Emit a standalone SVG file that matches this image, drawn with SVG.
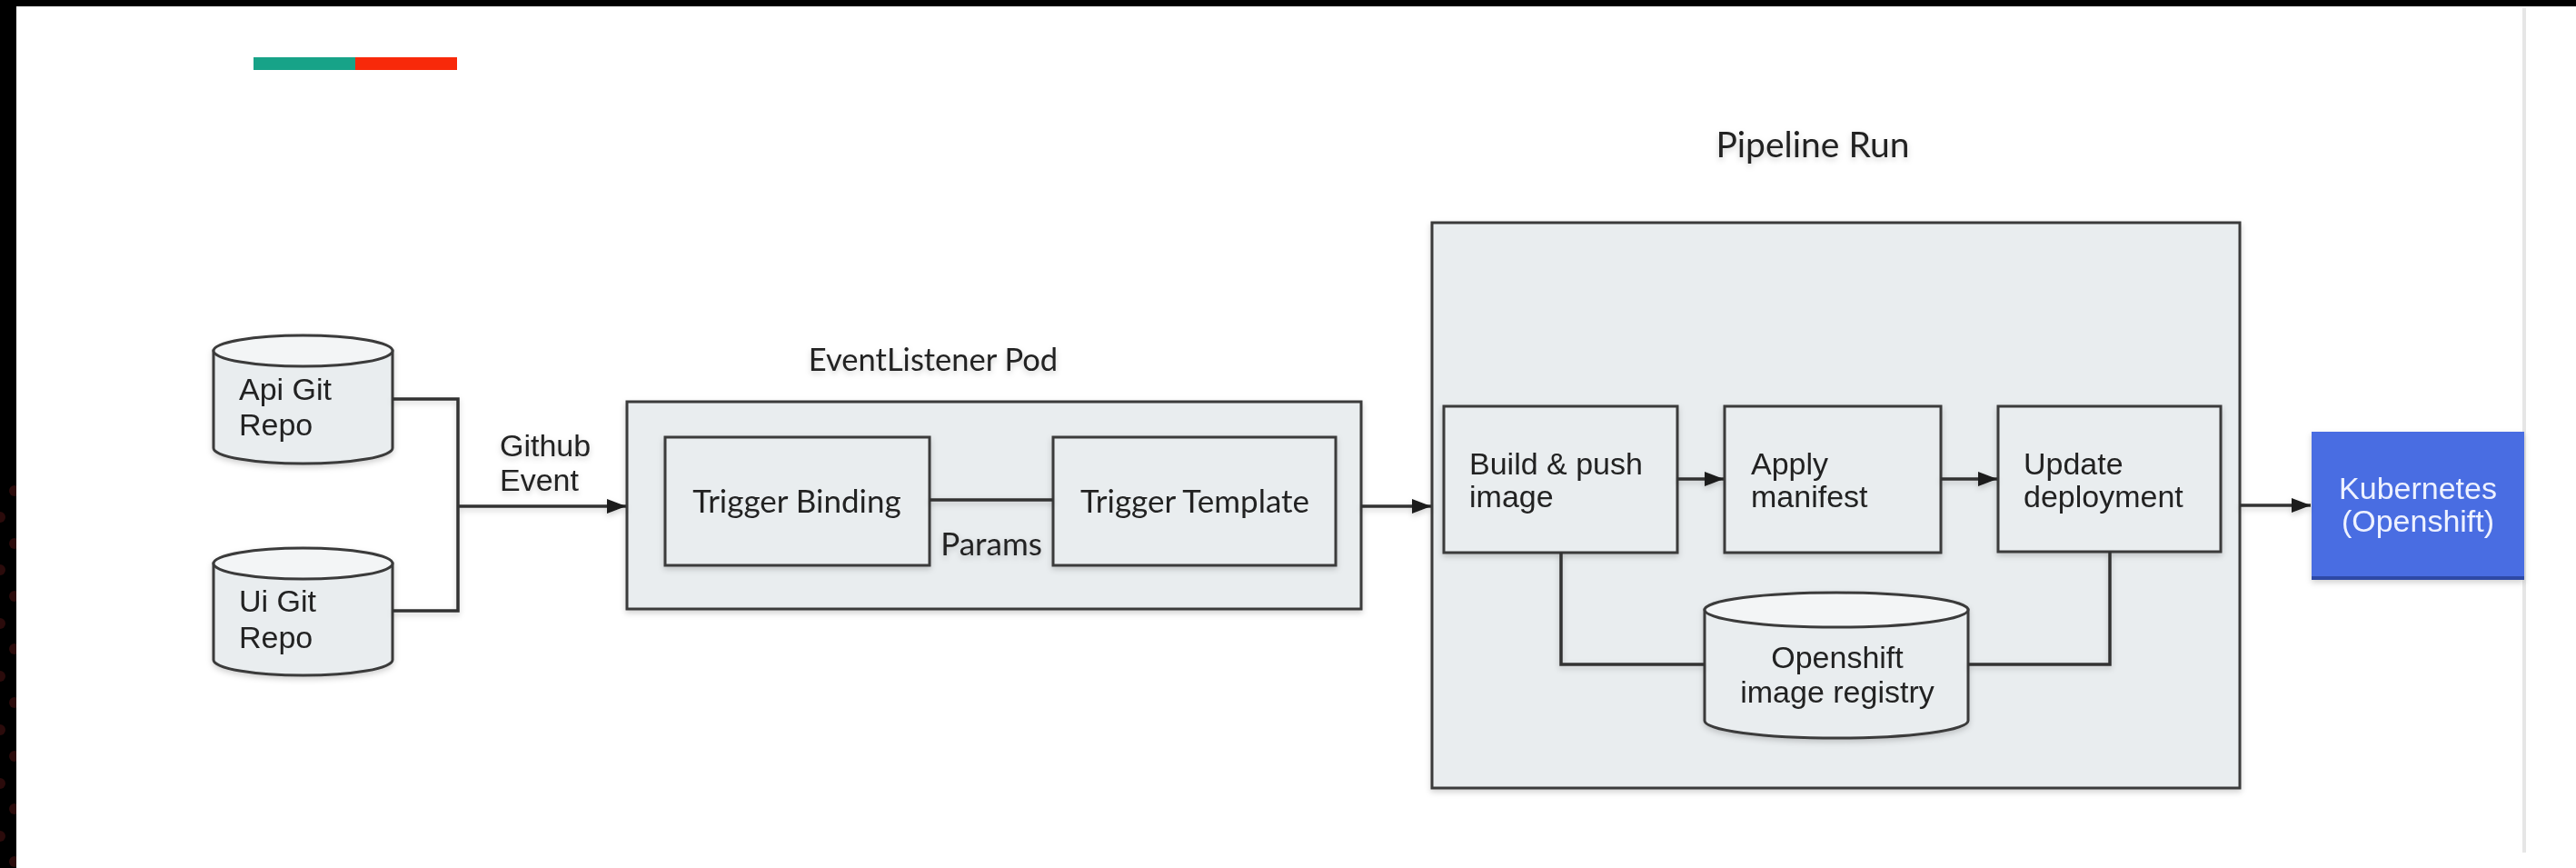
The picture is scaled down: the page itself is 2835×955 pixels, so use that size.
<svg xmlns="http://www.w3.org/2000/svg" width="2835" height="955" viewBox="0 0 2835 955">
<style>
.box{fill:#e9edef;stroke:#3a3a3a;stroke-width:3}
.top{fill:#f3f5f6;stroke:#3a3a3a;stroke-width:3}
.t{font-family:"Liberation Sans",Arial,sans-serif;font-size:34px;fill:#222}
.l{font-family:Lato,"Liberation Sans",sans-serif;font-size:35px;fill:#242424}
.c{fill:none;stroke:#333;stroke-width:3.5}
.dot{fill:#2b0b0b}
</style>
<defs>
<marker id="ah" markerUnits="userSpaceOnUse" markerWidth="22" markerHeight="18" refX="21" refY="9" orient="auto">
<path d="M0,1 L21,9 L0,17 Z" fill="#1a1a1a"/>
</marker>
<filter id="sh" x="-10%" y="-10%" width="120%" height="130%">
<feDropShadow dx="0" dy="3" stdDeviation="3" flood-color="#000" flood-opacity="0.18"/>
</filter>
</defs>
<rect x="0" y="0" width="2835" height="955" fill="#000"/>
<g id="dots">
<circle class="dot" cx="16" cy="540" r="6"/><circle class="dot" cx="16" cy="598" r="6"/><circle class="dot" cx="16" cy="656" r="6"/><circle class="dot" cx="16" cy="714" r="6"/><circle class="dot" cx="16" cy="773" r="6"/><circle class="dot" cx="16" cy="832" r="6"/><circle class="dot" cx="16" cy="890" r="6"/><circle class="dot" cx="16" cy="948" r="6"/>
<circle class="dot" cx="0" cy="569" r="6"/><circle class="dot" cx="0" cy="627" r="6"/><circle class="dot" cx="0" cy="686" r="6"/><circle class="dot" cx="0" cy="744" r="6"/><circle class="dot" cx="0" cy="803" r="6"/><circle class="dot" cx="0" cy="862" r="6"/><circle class="dot" cx="0" cy="920" r="6"/>
</g>
<rect x="18" y="7" width="2817" height="948" fill="#fff"/>
<line x1="2778" y1="9" x2="2778" y2="938" stroke="#e6e6e6" stroke-width="4"/>
<g id="accent-bar">
<rect x="279" y="63" width="113" height="14" fill="#17a388"/>
<rect x="391" y="63" width="112" height="14" fill="#f8290a"/>
</g>

<g id="pipeline-run" filter="url(#sh)">
<rect class="box" x="1576" y="245" width="889" height="622"/>
<text class="l" x="1995" y="173" text-anchor="middle" font-size="39" style="font-size:39px">Pipeline Run</text>
</g>
<g id="eventlistener-pod" filter="url(#sh)">
<rect class="box" x="690" y="442" width="808" height="228"/>
<text class="l" x="1027" y="408" text-anchor="middle" style="font-size:34.5px">EventListener Pod</text>
</g>

<g id="api-git-repo" filter="url(#sh)">
<path class="box" d="M235,386 L235,493 A98.5,17 0 0 0 432,493 L432,386 Z"/>
<ellipse class="top" cx="333.5" cy="386" rx="98.5" ry="17"/>
<text class="t" x="263" y="440">Api Git</text>
<text class="t" x="263" y="479">Repo</text>
</g>
<g id="ui-git-repo" filter="url(#sh)">
<path class="box" d="M235,620 L235,726 A98.5,17 0 0 0 432,726 L432,620 Z"/>
<ellipse class="top" cx="333.5" cy="620" rx="98.5" ry="17"/>
<text class="t" x="263" y="673">Ui Git</text>
<text class="t" x="263" y="713">Repo</text>
</g>

<g id="trigger-binding" filter="url(#sh)">
<rect class="box" x="732" y="481" width="291" height="141"/>
<text class="l" x="877" y="564" text-anchor="middle">Trigger Binding</text>
</g>
<g id="trigger-template" filter="url(#sh)">
<rect class="box" x="1159" y="481" width="311" height="141"/>
<text class="l" x="1315" y="564" text-anchor="middle">Trigger Template</text>
</g>

<g id="build-push" filter="url(#sh)">
<rect class="box" x="1589" y="447" width="257" height="161"/>
<text class="t" x="1617" y="522">Build &amp; push</text>
<text class="t" x="1617" y="558">image</text>
</g>
<g id="apply-manifest" filter="url(#sh)">
<rect class="box" x="1898" y="447" width="238" height="161"/>
<text class="t" x="1927" y="522">Apply</text>
<text class="t" x="1927" y="558">manifest</text>
</g>
<g id="update-deployment" filter="url(#sh)">
<rect class="box" x="2199" y="447" width="245" height="160"/>
<text class="t" x="2227" y="522">Update</text>
<text class="t" x="2227" y="558">deployment</text>
</g>
<g id="image-registry" filter="url(#sh)">
<path class="box" d="M1876,671 L1876,793 A145,19 0 0 0 2166,793 L2166,671 Z"/>
<ellipse class="top" cx="2021" cy="671" rx="145" ry="19"/>
<text class="t" x="2022" y="735" text-anchor="middle">Openshift</text>
<text class="t" x="2022" y="773" text-anchor="middle">image registry</text>
</g>
<g id="kubernetes" filter="url(#sh)">
<rect x="2544" y="475" width="234" height="163" fill="#4a6de2"/>
<rect x="2544" y="634" width="234" height="4" fill="#2e48a6"/>
<text class="t" x="2661" y="549" text-anchor="middle" style="fill:#eef2ff">Kubernetes</text>
<text class="t" x="2661" y="585" text-anchor="middle" style="fill:#eef2ff">(Openshift)</text>
</g>

<g id="connectors" filter="url(#sh)">
<path class="c" d="M432,439 H504 V672 H432"/>
<path class="c" d="M504,557 H689" marker-end="url(#ah)"/>
<text class="t" x="550" y="502">Github</text>
<text class="t" x="550" y="540">Event</text>
<path class="c" d="M1023,550 H1159"/>
<text class="l" x="1091" y="611" text-anchor="middle">Params</text>
<path class="c" d="M1498,557 H1575" marker-end="url(#ah)"/>
<path class="c" d="M1846,527 H1897" marker-end="url(#ah)"/>
<path class="c" d="M2136,527 H2198" marker-end="url(#ah)"/>
<path class="c" d="M1718,608 V731 H1876"/>
<path class="c" d="M2322,607 V731 H2166"/>
<path class="c" d="M2465,556 H2543" marker-end="url(#ah)"/>
</g>
</svg>
